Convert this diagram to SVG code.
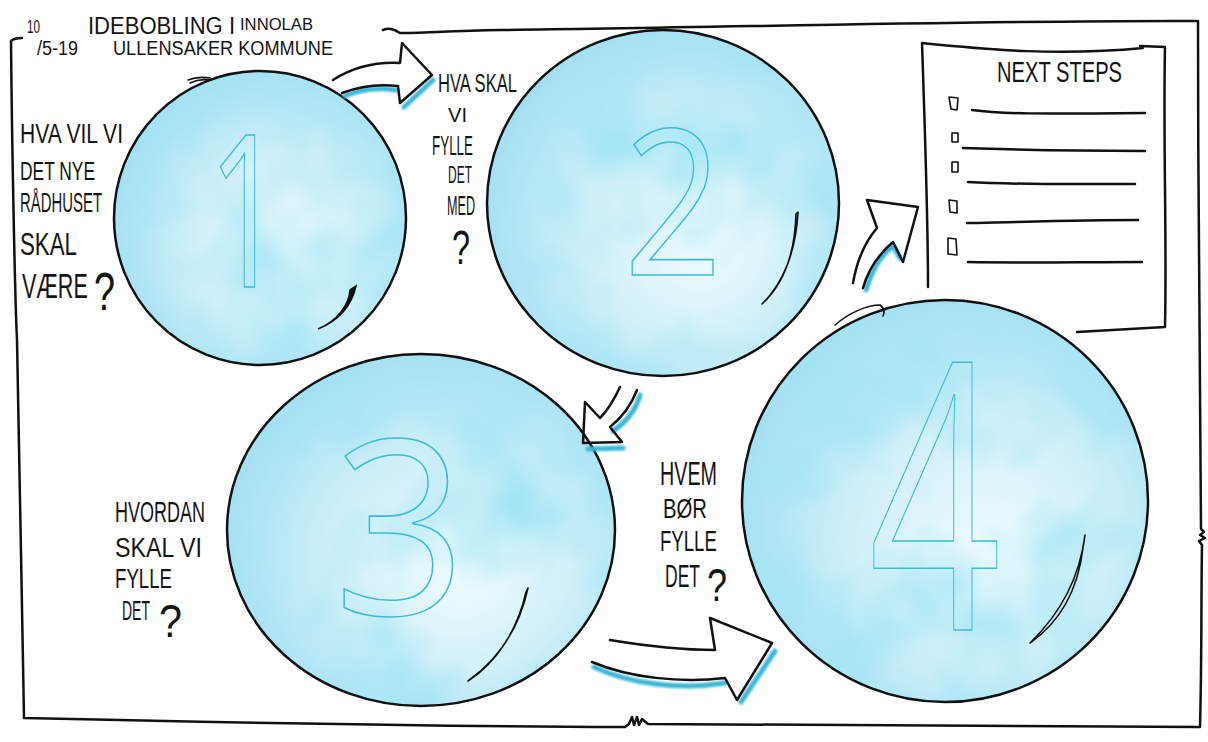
<svg xmlns="http://www.w3.org/2000/svg" width="1208" height="742" viewBox="0 0 1208 742">
<defs>
<radialGradient id="bub" cx="0.55" cy="0.55" r="0.62" fx="0.62" fy="0.64">
<stop offset="0" stop-color="#effbfe"/>
<stop offset="0.5" stop-color="#d0f0f9"/>
<stop offset="0.82" stop-color="#aee4f4"/>
<stop offset="1" stop-color="#9ddcf0"/>
</radialGradient>
<filter id="mottle" x="0" y="0" width="1" height="1">
<feTurbulence type="fractalNoise" baseFrequency="0.009" numOctaves="3" seed="7" result="n"/>
<feColorMatrix in="n" type="matrix" values="0 0 0 0 0.36  0 0 0 0 0.78  0 0 0 0 0.91  0 0 0 2.0 -0.82" result="c"/>
<feComposite in="c" in2="SourceGraphic" operator="in"/>
</filter>
<filter id="soft" x="-20%" y="-20%" width="140%" height="140%"><feGaussianBlur stdDeviation="1.2"/></filter>
<style>
.ol{fill:none;stroke:#111;stroke-width:2.5;stroke-linecap:round;stroke-linejoin:round}
.thin{fill:none;stroke:#111;stroke-width:1.6;stroke-linecap:round;stroke-linejoin:round}
.bf{fill:url(#bub)}
.mt{fill:#000;filter:url(#mottle)}
.sh{fill:none;stroke:#38b6d6;stroke-width:5;stroke-linecap:round;filter:url(#soft)}
.hw{font-family:"Liberation Sans",Arial,sans-serif;fill:#141414}
.num{font-family:"Open Sans","Liberation Sans",sans-serif;fill:none;stroke:#3dbbd6;stroke-width:1.6;text-anchor:middle}
</style>
</defs>
<rect width="1208" height="742" fill="#ffffff"/>

<g id="frame">
<path class="ol" d="M22,38 C17,38 13,39 11,41 C12,150 15,300 17,340 C19,450 22,600 24,718 C200,722 400,726 625,727 l4,-3 l3,-7 l2,8 l3,-8 l2,8 l3,-6 l6,5 C800,725 1000,726 1200,727 C1202,650 1201,600 1202,545 l-3,-4 l6,-3 l-5,-3 l4,-3 l-3,-3 C1200,400 1198,200 1198,21 C1000,20 700,28 500,30 C450,31 420,33 400,33 C395,30 390,27 383,30"/>
</g>

<g id="title">
<text class="hw" x="27" y="33" font-size="18" textLength="13" lengthAdjust="spacingAndGlyphs">10</text>
<text class="hw" x="37" y="55" font-size="20" textLength="41" lengthAdjust="spacingAndGlyphs">/5-19</text>
<text class="hw" x="88" y="34" font-size="23" textLength="147" lengthAdjust="spacingAndGlyphs">IDEBOBLING I</text>
<text class="hw" x="240" y="30" font-size="17" textLength="73" lengthAdjust="spacingAndGlyphs">INNOLAB</text>
<text class="hw" x="113" y="55" font-size="20" textLength="220" lengthAdjust="spacingAndGlyphs">ULLENSAKER KOMMUNE</text>
</g>

<g id="next-steps">
<path class="ol" d="M922,43 C990,50 1060,56 1143,48 M1140,46 L1165,47 C1163,140 1167,240 1165,327 L1077,332 M922,43 C925,130 928,220 928,287"/>
<text class="hw" x="997" y="82" font-size="29" textLength="125" lengthAdjust="spacingAndGlyphs">NEXT STEPS</text>
<path class="thin" d="M949,97 L958,98 L957,110 L951,109 Z M952,133 L958,133 L958,142 L952,142 Z M952,162 L958,162 L958,172 L952,172 Z M949,200 L957,201 L957,213 L950,212 Z M948,238 L956,239 L957,255 L948,254 Z"/>
<path class="ol" d="M972,110 C1000,114 1040,114 1145,113 M963,148 C1020,150 1080,151 1145,151 M968,182 C1020,185 1080,184 1135,184 M967,223 C1020,222 1080,220 1138,220 M968,262 C1020,263 1080,262 1142,262"/>
</g>

<g id="bubble-1">
<ellipse class="bf" cx="260" cy="218" rx="146" ry="147"/>
<ellipse class="mt" cx="260" cy="218" rx="146" ry="147"/>
<text class="num" transform="translate(246,287) scale(0.62,1)" font-size="212">1</text>
<path d="M356,286 C352,304 340,320 318,329 C337,321 349,305 350,290 Z" fill="#111" stroke="#111" stroke-width="1.5"/>
<path class="thin" d="M188,80 C195,77 203,77 210,78 M190,83 C196,80 203,79 209,80"/>
<ellipse class="ol" cx="260" cy="218" rx="146" ry="147"/>
<text class="hw" x="20" y="143" font-size="28" textLength="103" lengthAdjust="spacingAndGlyphs">HVA VIL VI</text>
<text class="hw" x="20" y="180" font-size="25" textLength="75" lengthAdjust="spacingAndGlyphs">DET NYE</text>
<text class="hw" x="20" y="212" font-size="28" textLength="82" lengthAdjust="spacingAndGlyphs">RÅDHUSET</text>
<text class="hw" x="20" y="255" font-size="32" textLength="57" lengthAdjust="spacingAndGlyphs">SKAL</text>
<text class="hw" transform="translate(22,298) scale(0.615,1)" font-size="35">VÆRE</text>
<text class="hw" x="94" y="310" font-size="54" textLength="21" lengthAdjust="spacingAndGlyphs">?</text>
</g>

<g id="bubble-2">
<ellipse class="bf" cx="663" cy="203" rx="176" ry="173"/>
<ellipse class="mt" cx="663" cy="203" rx="176" ry="173"/>
<text class="num" transform="translate(673,275) scale(0.85,1)" font-size="203">2</text>
<path class="thin" d="M798,212 C796,250 784,283 762,304 C786,282 795,250 796,214 Z"/>
<ellipse class="ol" cx="663" cy="203" rx="176" ry="173"/>
<text class="hw" x="438" y="92" font-size="26" textLength="79" lengthAdjust="spacingAndGlyphs">HVA SKAL</text>
<text class="hw" x="448" y="122" font-size="20" textLength="19" lengthAdjust="spacingAndGlyphs">VI</text>
<text class="hw" x="432" y="155" font-size="28" textLength="41" lengthAdjust="spacingAndGlyphs">FYLLE</text>
<text class="hw" x="448" y="183" font-size="24" textLength="24" lengthAdjust="spacingAndGlyphs">DET</text>
<text class="hw" x="447" y="215" font-size="28" textLength="28" lengthAdjust="spacingAndGlyphs">MED</text>
<text class="hw" x="452" y="264" font-size="48" textLength="18" lengthAdjust="spacingAndGlyphs">?</text>
</g>

<g id="bubble-3">
<ellipse class="bf" cx="421" cy="530" rx="194" ry="176"/>
<ellipse class="mt" cx="421" cy="530" rx="194" ry="176"/>
<text class="num" transform="translate(400,615) scale(0.95,1)" font-size="244">3</text>
<path class="thin" d="M528,588 C520,625 500,658 468,681 C498,662 518,628 526,592 Z"/>
<ellipse class="ol" cx="421" cy="530" rx="194" ry="176"/>
<text class="hw" x="115" y="522" font-size="30" textLength="90" lengthAdjust="spacingAndGlyphs">HVORDAN</text>
<text class="hw" x="115" y="557" font-size="28" textLength="87" lengthAdjust="spacingAndGlyphs">SKAL VI</text>
<text class="hw" transform="translate(115,588) scale(0.69,1)" font-size="27">FYLLE</text>
<text class="hw" transform="translate(122,620) scale(0.5,1)" font-size="28">DET</text>
<text class="hw" x="159" y="637" font-size="46" textLength="23" lengthAdjust="spacingAndGlyphs">?</text>
</g>

<g id="bubble-4">
<ellipse class="bf" cx="945" cy="501" rx="203" ry="201"/>
<ellipse class="mt" cx="945" cy="501" rx="203" ry="201"/>
<text class="num" transform="translate(935,630) scale(0.62,1)" font-size="373">4</text>
<path class="thin" d="M1085,535 C1080,575 1062,612 1030,643 C1060,622 1078,590 1083,548 Z"/>
<path class="thin" d="M835,325 C850,312 868,305 880,305 C884,308 885,312 883,316"/>
<ellipse class="ol" cx="945" cy="501" rx="203" ry="201"/>
<text class="hw" x="660" y="485" font-size="33" textLength="57" lengthAdjust="spacingAndGlyphs">HVEM</text>
<text class="hw" x="663" y="518" font-size="28" textLength="44" lengthAdjust="spacingAndGlyphs">BØR</text>
<text class="hw" transform="translate(660,551) scale(0.62,1)" font-size="30">FYLLE</text>
<text class="hw" transform="translate(665,587) scale(0.565,1)" font-size="31">DET</text>
<text class="hw" x="707" y="601" font-size="46" textLength="20" lengthAdjust="spacingAndGlyphs">?</text>
</g>

<g id="connectors">
<path class="sh" d="M345,96 C360,89 380,87 396,90 M404,107 L433,80"/>
<path class="ol" d="M333,80 C355,66 380,62 400,63 L402,43 L432,75 L400,103 L398,86 C380,84 360,86 342,93" fill="#fff"/>
<path class="sh" d="M640,395 C636,410 626,422 613,431 M588,449 L623,448"/>
<path class="ol" d="M620,387 C614,400 608,410 600,418 L585,402 L583,443 L622,442 L610,427 C624,416 632,403 637,390"/>
<path class="sh" d="M866,290 C872,270 881,255 893,246 L900,258"/>
<path class="ol" d="M853,283 C857,260 865,242 877,228 L867,200 L918,207 L903,262 L893,242 C878,255 868,270 863,288"/>
<path class="sh" d="M594,667 C630,684 680,690 725,683 M741,702 L775,651"/>
<path class="ol" d="M610,640 C640,645 680,650 715,650 L710,618 L772,643 L737,700 L725,678 C680,683 630,678 592,662"/>
</g>
</svg>
